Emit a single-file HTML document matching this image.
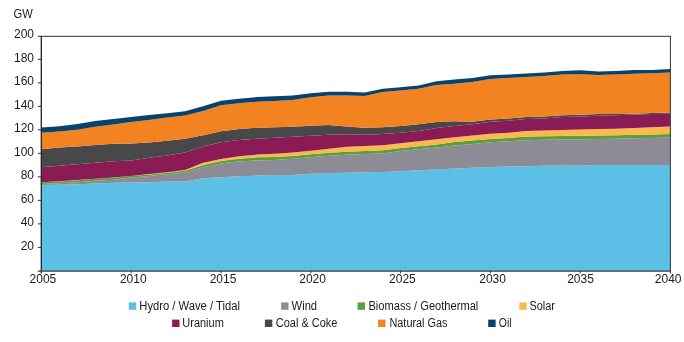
<!DOCTYPE html>
<html><head><meta charset="utf-8"><style>
html,body{margin:0;padding:0;background:#fff;width:684px;height:342px;overflow:hidden}
svg{display:block;will-change:transform}
text{font-family:"Liberation Sans",sans-serif;font-size:12px;fill:#1a1a1a}
</style></head><body>
<svg width="684" height="342" viewBox="0 0 684 342">
<rect width="684" height="342" fill="#fff"/>
<text x="13.6" y="18" textLength="19.2" lengthAdjust="spacingAndGlyphs">GW</text>
<polygon points="41.40,185.09 59.36,184.86 77.32,184.21 95.28,183.45 113.24,182.81 131.20,182.46 149.16,182.19 167.12,181.58 185.08,181.58 203.04,178.25 221.00,177.37 238.96,176.32 256.92,175.61 274.88,175.12 292.84,175.00 310.80,173.77 328.76,172.89 346.72,172.72 364.68,172.37 382.64,172.02 400.60,171.14 418.56,170.26 436.52,169.39 454.48,168.51 472.44,167.63 490.40,166.89 508.36,166.49 526.32,166.14 544.28,165.79 562.24,165.61 580.20,165.70 598.16,165.09 616.12,165.09 634.08,165.09 652.04,165.09 670.00,165.09 670.00,270.90 652.04,270.90 634.08,270.90 616.12,270.90 598.16,270.90 580.20,270.90 562.24,270.90 544.28,270.90 526.32,270.90 508.36,270.90 490.40,270.90 472.44,270.90 454.48,270.90 436.52,270.90 418.56,270.90 400.60,270.90 382.64,270.90 364.68,270.90 346.72,270.90 328.76,270.90 310.80,270.90 292.84,270.90 274.88,270.90 256.92,270.90 238.96,270.90 221.00,270.90 203.04,270.90 185.08,270.90 167.12,270.90 149.16,270.90 131.20,270.90 113.24,270.90 95.28,270.90 77.32,270.90 59.36,270.90 41.40,270.90" fill="#5bbfe6"/><polygon points="41.40,184.04 59.36,183.33 77.32,182.23 95.28,180.82 113.24,179.70 131.20,177.48 149.16,175.96 167.12,174.33 185.08,172.46 203.04,167.14 221.00,163.39 238.96,161.40 256.92,160.41 274.88,159.91 292.84,158.80 310.80,157.16 328.76,155.70 346.72,154.70 364.68,153.95 382.64,153.42 400.60,150.96 418.56,149.21 436.52,147.46 454.48,145.47 472.44,144.00 490.40,142.29 508.36,141.17 526.32,140.18 544.28,139.82 562.24,139.47 580.20,139.43 598.16,138.90 616.12,138.72 634.08,138.33 652.04,137.89 670.00,137.46 670.00,165.09 652.04,165.09 634.08,165.09 616.12,165.09 598.16,165.09 580.20,165.70 562.24,165.61 544.28,165.79 526.32,166.14 508.36,166.49 490.40,166.89 472.44,167.63 454.48,168.51 436.52,169.39 418.56,170.26 400.60,171.14 382.64,172.02 364.68,172.37 346.72,172.72 328.76,172.89 310.80,173.77 292.84,175.00 274.88,175.12 256.92,175.61 238.96,176.32 221.00,177.37 203.04,178.25 185.08,181.58 167.12,181.58 149.16,182.19 131.20,182.46 113.24,182.81 95.28,183.45 77.32,184.21 59.36,184.86 41.40,185.09" fill="#8c8b96"/><polygon points="41.40,182.31 59.36,181.44 77.32,180.14 95.28,178.81 113.24,177.63 131.20,175.93 149.16,174.59 167.12,172.81 185.08,170.82 203.04,164.91 221.00,161.05 238.96,158.77 256.92,157.31 274.88,156.93 292.84,156.05 310.80,154.30 328.76,152.72 346.72,151.67 364.68,150.96 382.64,150.26 400.60,147.98 418.56,146.23 436.52,144.47 454.48,142.02 472.44,140.61 490.40,139.11 508.36,137.89 526.32,136.49 544.28,136.32 562.24,135.96 580.20,135.78 598.16,135.48 616.12,135.26 634.08,134.82 652.04,134.38 670.00,133.95 670.00,137.46 652.04,137.89 634.08,138.33 616.12,138.72 598.16,138.90 580.20,139.43 562.24,139.47 544.28,139.82 526.32,140.18 508.36,141.17 490.40,142.29 472.44,144.00 454.48,145.47 436.52,147.46 418.56,149.21 400.60,150.96 382.64,153.42 364.68,153.95 346.72,154.70 328.76,155.70 310.80,157.16 292.84,158.80 274.88,159.91 256.92,160.41 238.96,161.40 221.00,163.39 203.04,167.14 185.08,172.46 167.12,174.33 149.16,175.96 131.20,177.48 113.24,179.70 95.28,180.82 77.32,182.23 59.36,183.33 41.40,184.04" fill="#5a9e3e"/><polygon points="41.40,182.23 59.36,181.35 77.32,180.06 95.28,178.72 113.24,177.54 131.20,175.93 149.16,173.95 167.12,172.17 185.08,169.94 203.04,162.81 221.00,159.12 238.96,156.37 256.92,154.62 274.88,153.65 292.84,152.54 310.80,150.79 328.76,148.68 346.72,146.70 364.68,146.05 382.64,145.26 400.60,143.19 418.56,141.32 436.52,139.33 454.48,137.34 472.44,135.53 490.40,133.81 508.36,132.63 526.32,131.00 544.28,130.58 562.24,129.95 580.20,129.41 598.16,128.99 616.12,128.63 634.08,128.04 652.04,127.33 670.00,126.40 670.00,133.95 652.04,134.38 634.08,134.82 616.12,135.26 598.16,135.48 580.20,135.78 562.24,135.96 544.28,136.32 526.32,136.49 508.36,137.89 490.40,139.11 472.44,140.61 454.48,142.02 436.52,144.47 418.56,146.23 400.60,147.98 382.64,150.26 364.68,150.96 346.72,151.67 328.76,152.72 310.80,154.30 292.84,156.05 274.88,156.93 256.92,157.31 238.96,158.77 221.00,161.05 203.04,164.91 185.08,170.82 167.12,172.81 149.16,174.59 131.20,175.93 113.24,177.63 95.28,178.81 77.32,180.14 59.36,181.44 41.40,182.31" fill="#fbb94c"/><polygon points="41.40,167.19 59.36,165.67 77.32,164.31 95.28,162.74 113.24,161.34 131.20,160.50 149.16,157.73 167.12,155.43 185.08,152.46 203.04,146.46 221.00,142.35 238.96,139.97 256.92,138.72 274.88,137.69 292.84,136.70 310.80,135.82 328.76,134.65 346.72,134.35 364.68,134.70 382.64,133.95 400.60,132.77 418.56,131.02 436.52,128.04 454.48,126.05 472.44,124.24 490.40,121.85 508.36,120.76 526.32,119.12 544.28,118.42 562.24,117.02 580.20,116.45 598.16,115.66 616.12,115.18 634.08,114.59 652.04,113.95 670.00,113.65 670.00,126.40 652.04,127.33 634.08,128.04 616.12,128.63 598.16,128.99 580.20,129.41 562.24,129.95 544.28,130.58 526.32,131.00 508.36,132.63 490.40,133.81 472.44,135.53 454.48,137.34 436.52,139.33 418.56,141.32 400.60,143.19 382.64,145.26 364.68,146.05 346.72,146.70 328.76,148.68 310.80,150.79 292.84,152.54 274.88,153.65 256.92,154.62 238.96,156.37 221.00,159.12 203.04,162.81 185.08,169.94 167.12,172.17 149.16,173.95 131.20,175.93 113.24,177.54 95.28,178.72 77.32,180.06 59.36,181.35 41.40,182.23" fill="#8a1b55"/><polygon points="41.40,149.24 59.36,147.60 77.32,146.43 95.28,144.91 113.24,143.80 131.20,143.51 149.16,142.54 167.12,140.76 185.08,138.77 203.04,135.26 221.00,131.23 238.96,128.95 256.92,127.72 274.88,127.19 292.84,126.70 310.80,125.76 328.76,125.00 346.72,126.52 364.68,127.69 382.64,127.16 400.60,125.93 418.56,124.18 436.52,122.02 454.48,121.37 472.44,121.67 490.40,119.60 508.36,118.59 526.32,117.02 544.28,116.49 562.24,115.26 580.20,114.69 598.16,114.08 616.12,114.00 634.08,113.65 652.04,113.01 670.00,112.49 670.00,113.65 652.04,113.95 634.08,114.59 616.12,115.18 598.16,115.66 580.20,116.45 562.24,117.02 544.28,118.42 526.32,119.12 508.36,120.76 490.40,121.85 472.44,124.24 454.48,126.05 436.52,128.04 418.56,131.02 400.60,132.77 382.64,133.95 364.68,134.70 346.72,134.35 328.76,134.65 310.80,135.82 292.84,136.70 274.88,137.69 256.92,138.72 238.96,139.97 221.00,142.35 203.04,146.46 185.08,152.46 167.12,155.43 149.16,157.73 131.20,160.50 113.24,161.34 95.28,162.74 77.32,164.31 59.36,165.67 41.40,167.19" fill="#48484a"/><polygon points="41.40,132.81 59.36,131.40 77.32,129.65 95.28,126.67 113.24,124.39 131.20,122.10 149.16,119.98 167.12,117.54 185.08,115.49 203.04,111.00 221.00,105.26 238.96,103.21 256.92,101.75 274.88,101.02 292.84,99.91 310.80,97.28 328.76,95.41 346.72,95.53 364.68,95.93 382.64,91.93 400.60,90.44 418.56,88.68 436.52,85.05 454.48,83.65 472.44,81.90 490.40,78.96 508.36,78.12 526.32,77.02 544.28,75.91 562.24,74.51 580.20,74.13 598.16,75.01 616.12,74.42 634.08,73.65 652.04,73.36 670.00,72.54 670.00,112.49 652.04,113.01 634.08,113.65 616.12,114.00 598.16,114.08 580.20,114.69 562.24,115.26 544.28,116.49 526.32,117.02 508.36,118.59 490.40,119.60 472.44,121.67 454.48,121.37 436.52,122.02 418.56,124.18 400.60,125.93 382.64,127.16 364.68,127.69 346.72,126.52 328.76,125.00 310.80,125.76 292.84,126.70 274.88,127.19 256.92,127.72 238.96,128.95 221.00,131.23 203.04,135.26 185.08,138.77 167.12,140.76 149.16,142.54 131.20,143.51 113.24,143.80 95.28,144.91 77.32,146.43 59.36,147.60 41.40,149.24" fill="#f38221"/><polygon points="41.40,127.54 59.36,126.14 77.32,124.04 95.28,120.88 113.24,119.12 131.20,116.96 149.16,115.12 167.12,113.22 185.08,111.35 203.04,106.37 221.00,100.65 238.96,98.77 256.92,97.07 274.88,96.23 292.84,95.58 310.80,93.24 328.76,91.67 346.72,91.67 364.68,92.42 382.64,88.65 400.60,87.16 418.56,85.41 436.52,81.32 454.48,79.44 472.44,77.98 490.40,75.25 508.36,74.56 526.32,73.51 544.28,72.40 562.24,70.88 580.20,70.36 598.16,71.50 616.12,71.09 634.08,70.09 652.04,69.91 670.00,68.92 670.00,72.54 652.04,73.36 634.08,73.65 616.12,74.42 598.16,75.01 580.20,74.13 562.24,74.51 544.28,75.91 526.32,77.02 508.36,78.12 490.40,78.96 472.44,81.90 454.48,83.65 436.52,85.05 418.56,88.68 400.60,90.44 382.64,91.93 364.68,95.93 346.72,95.53 328.76,95.41 310.80,97.28 292.84,99.91 274.88,101.02 256.92,101.75 238.96,103.21 221.00,105.26 203.04,111.00 185.08,115.49 167.12,117.54 149.16,119.98 131.20,122.10 113.24,124.39 95.28,126.67 77.32,129.65 59.36,131.40 41.40,132.81" fill="#09436d"/>

<line x1="37.8" y1="36.3" x2="670.8" y2="36.3" stroke="#585858" stroke-width="1.2"/>
<line x1="670.4" y1="36" x2="670.4" y2="273.4" stroke="#333" stroke-width="1"/>
<line x1="41.3" y1="36.2" x2="41.3" y2="273.5" stroke="#222" stroke-width="1.3"/>
<line x1="37.8" y1="271.1" x2="670.8" y2="271.1" stroke="#3a3a3a" stroke-width="1.4"/>
<line x1="37.8" y1="247.39" x2="41.4" y2="247.39" stroke="#333" stroke-width="1"/><text x="34" y="249.89" text-anchor="end">20</text><line x1="37.8" y1="223.88" x2="41.4" y2="223.88" stroke="#333" stroke-width="1"/><text x="34" y="226.38" text-anchor="end">40</text><line x1="37.8" y1="200.37" x2="41.4" y2="200.37" stroke="#333" stroke-width="1"/><text x="34" y="202.87" text-anchor="end">60</text><line x1="37.8" y1="176.86" x2="41.4" y2="176.86" stroke="#333" stroke-width="1"/><text x="34" y="179.36" text-anchor="end">80</text><line x1="37.8" y1="153.35" x2="41.4" y2="153.35" stroke="#333" stroke-width="1"/><text x="34" y="155.85" text-anchor="end">100</text><line x1="37.8" y1="129.84" x2="41.4" y2="129.84" stroke="#333" stroke-width="1"/><text x="34" y="132.34" text-anchor="end">120</text><line x1="37.8" y1="106.33" x2="41.4" y2="106.33" stroke="#333" stroke-width="1"/><text x="34" y="108.83" text-anchor="end">140</text><line x1="37.8" y1="82.82" x2="41.4" y2="82.82" stroke="#333" stroke-width="1"/><text x="34" y="85.32" text-anchor="end">160</text><line x1="37.8" y1="59.31" x2="41.4" y2="59.31" stroke="#333" stroke-width="1"/><text x="34" y="61.81" text-anchor="end">180</text><text x="34" y="38.30" text-anchor="end">200</text>
<text x="42.90" y="283" text-anchor="middle">2005</text><line x1="131.20" y1="270.9" x2="131.20" y2="273.3" stroke="#333" stroke-width="1"/><text x="133.30" y="283" text-anchor="middle">2010</text><line x1="221.00" y1="270.9" x2="221.00" y2="273.3" stroke="#333" stroke-width="1"/><text x="223.00" y="283" text-anchor="middle">2015</text><line x1="310.80" y1="270.9" x2="310.80" y2="273.3" stroke="#333" stroke-width="1"/><text x="312.60" y="283" text-anchor="middle">2020</text><line x1="400.60" y1="270.9" x2="400.60" y2="273.3" stroke="#333" stroke-width="1"/><text x="402.40" y="283" text-anchor="middle">2025</text><line x1="490.40" y1="270.9" x2="490.40" y2="273.3" stroke="#333" stroke-width="1"/><text x="492.60" y="283" text-anchor="middle">2030</text><line x1="580.20" y1="270.9" x2="580.20" y2="273.3" stroke="#333" stroke-width="1"/><text x="580.50" y="283" text-anchor="middle">2035</text><text x="668.20" y="283" text-anchor="middle">2040</text>
<rect x="128.8" y="302.4" width="7.4" height="7.4" fill="#5bbfe6"/><text x="139.3" y="309.90" textLength="100.6" lengthAdjust="spacingAndGlyphs">Hydro / Wave / Tidal</text><rect x="281.1" y="302.4" width="7.4" height="7.4" fill="#8c8b96"/><text x="291.6" y="309.90" textLength="25.5" lengthAdjust="spacingAndGlyphs">Wind</text><rect x="357.6" y="302.4" width="7.4" height="7.4" fill="#5a9e3e"/><text x="368.4" y="309.90" textLength="109.89999999999999" lengthAdjust="spacingAndGlyphs">Biomass / Geothermal</text><rect x="519.3" y="302.4" width="7.4" height="7.4" fill="#fbb94c"/><text x="529.5" y="309.90" textLength="25.5" lengthAdjust="spacingAndGlyphs">Solar</text><rect x="172.1" y="319.6" width="7.4" height="7.4" fill="#8a1b55"/><text x="182.3" y="327.10" textLength="41.5" lengthAdjust="spacingAndGlyphs">Uranium</text><rect x="264.9" y="319.6" width="7.4" height="7.4" fill="#48484a"/><text x="275.8" y="327.10" textLength="61.6" lengthAdjust="spacingAndGlyphs">Coal &amp; Coke</text><rect x="378.1" y="319.6" width="7.4" height="7.4" fill="#f38221"/><text x="389.5" y="327.10" textLength="57.9" lengthAdjust="spacingAndGlyphs">Natural Gas</text><rect x="488.2" y="319.6" width="7.4" height="7.4" fill="#09436d"/><text x="498.8" y="327.10" textLength="12.799999999999999" lengthAdjust="spacingAndGlyphs">Oil</text>
</svg>
</body></html>
